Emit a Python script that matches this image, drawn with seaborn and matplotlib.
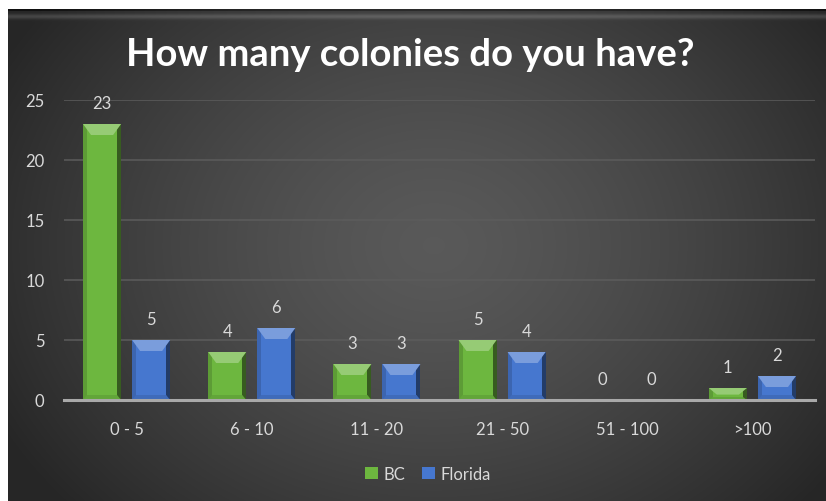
import numpy as np
import pandas as pd
import matplotlib
matplotlib.use("Agg")
import matplotlib.pyplot as plt
import seaborn as sns
from matplotlib.patches import Polygon, Rectangle
from matplotlib.colors import to_rgb

# ---- data ----
categories = ["0 - 5", "6 - 10", "11 - 20", "21 - 50", "51 - 100", ">100"]
bc_values = [23, 4, 3, 5, 0, 1]
florida_values = [5, 6, 3, 4, 0, 2]
series_names = ["BC", "Florida"]
title_text = "How many colonies do you have?"
y_ticks = [0, 5, 10, 15, 20, 25]

df = pd.DataFrame({
    "range": categories * 2,
    "count": bc_values + florida_values,
    "region": [series_names[0]] * len(categories) + [series_names[1]] * len(categories),
})

plt.rcParams["font.family"] = ["Lato", "DejaVu Sans"]

W, H = 826, 502
fig = plt.figure(figsize=(W / 100, H / 100), dpi=100, facecolor="white")

# ---- background panel with radial gradient ----
px0, py_top = 8, 10
bg = fig.add_axes([px0 / W, 0, 1 - px0 / W, (H - py_top) / H], zorder=0)
ny, nx = H - py_top, W - px0
yy, xx = np.mgrid[0:ny, 0:nx]
cx, cy = nx * 0.52, ny * 0.48
r = np.sqrt(((xx - cx) / (nx * 0.60)) ** 2 + ((yy - cy) / (ny * 0.80)) ** 2)
r = np.clip(r, 0, 1)
v = 0.35 - 0.20 * r ** 1.4
# top bevel strip
band = np.zeros(ny)
for i in range(14):
    if i < 2:
        band[i] = -0.08
    else:
        band[i] = 0.12 * np.exp(-((i - 7) / 2.5) ** 2)
v = v + band[:, None]
img = np.clip(np.dstack([v, v, v]), 0, 1)
bg.imshow(img, aspect="auto", extent=[0, 1, 0, 1], origin="upper")
bg.axis("off")

# ---- main axes ----
ax = fig.add_axes([64 / W, 1 - 401 / H, (815 - 64) / W, 300 / H], zorder=1)
ax.patch.set_alpha(0)

green = "#6DB73F"
blue = "#4677CF"
sns.barplot(data=df, x="range", y="count", hue="region", palette=[green, blue],
            width=0.784, gap=0.224, ax=ax, legend=False, saturation=1,
            zorder=3, linewidth=0)

ax.set_xlim(-0.5, len(categories) - 0.5)
ax.set_ylim(0, 25)
ax.set_yticks(y_ticks)
ax.set_xlabel("")
ax.set_ylabel("")
ax.yaxis.grid(True, color="#5c5c5c", lw=1.1)
ax.xaxis.grid(False)
ax.set_axisbelow(True)
for s in ["top", "right", "left"]:
    ax.spines[s].set_visible(False)
ax.spines["bottom"].set_color("#a9a9a9")
ax.spines["bottom"].set_linewidth(2.2)
ax.spines["bottom"].set_zorder(5)
ax.tick_params(axis="both", length=0, colors="#d9d9d9", labelsize=12)
ax.tick_params(axis="y", pad=14)
ax.tick_params(axis="x", pad=15)


def mix(c, t, amt):
    c = np.array(to_rgb(c)); t = np.array(to_rgb(t))
    return tuple(c + (t - c) * amt)


# ---- bevel effect on bars ----
inv = ax.transData.inverted()
for p in list(ax.patches):
    h = p.get_height()
    if h <= 0:
        continue
    fc = p.get_facecolor()[:3]
    x0d, y0d = p.get_x(), p.get_y()
    (x0, y0) = ax.transData.transform((x0d, y0d))
    (x1, y1) = ax.transData.transform((x0d + p.get_width(), y0d + h))
    bh = (y1 - y0)
    side = 4.0
    tin = 8.0
    tb = min(11.0, bh * 0.55)
    bb = min(5.0, bh * 0.25)
    polys = [
        ([(x0, y0), (x0 + side, y0), (x0 + side, y1), (x0, y1)], mix(fc, "black", 0.15)),
        ([(x1 - side, y0), (x1, y0), (x1, y1), (x1 - side, y1)], mix(fc, "black", 0.50)),
        ([(x0, y1), (x1, y1), (x1 - tin, y1 - tb), (x0 + tin, y1 - tb)], mix(fc, "white", 0.28)),
        ([(x0, y0), (x1, y0), (x1 - side, y0 + bb), (x0 + side, y0 + bb)], mix(fc, "black", 0.10)),
    ]
    for pts, col in polys:
        dpts = inv.transform(np.array(pts))
        ax.add_patch(Polygon(dpts, closed=True, facecolor=col, edgecolor="none", zorder=4))

# ---- data labels ----
for cont in ax.containers:
    ax.bar_label(cont, fmt="{:.0f}", padding=9, color="#d9d9d9", fontsize=12)

# ---- legend ----
handles = [Rectangle((0, 0), 1, 1, facecolor=green), Rectangle((0, 0), 1, 1, facecolor=blue)]
fig.legend(handles, series_names, loc="center", bbox_to_anchor=(428 / W, 1 - 475 / H),
           ncol=2, frameon=False, handlelength=0.75, handleheight=0.75,
           handletextpad=0.35, columnspacing=1.0, labelcolor="#d9d9d9", fontsize=12)

# ---- title ----
fig.text(410 / W, 1 - 66 / H, title_text, ha="center", va="baseline", color="white",
         fontsize=27.5, fontweight="bold")

fig.savefig("out.png", dpi=100, facecolor="white")
